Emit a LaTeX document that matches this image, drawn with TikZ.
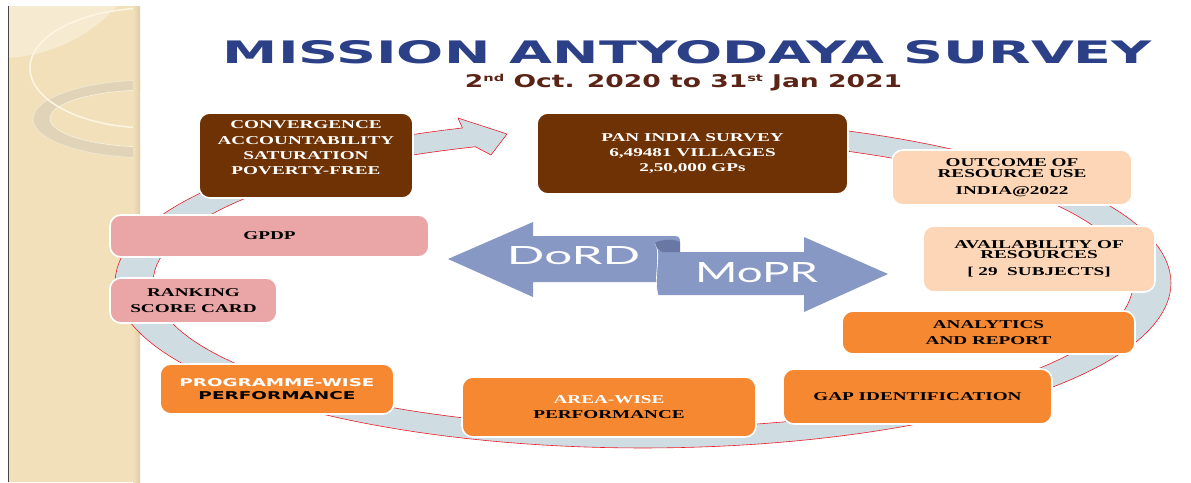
\documentclass[tikz,border=0pt]{standalone}
\usepackage{fontspec}
\setmainfont{Liberation Serif}
\newfontfamily\bxfont[FakeStretch=1.6]{Liberation Serif}
\newfontfamily\gillfont{Lato}
\newfontfamily\heavyfont{DejaVu Sans}
\newfontfamily\titlefont{DejaVu Sans}
\newcommand\supx[1]{\raisebox{3pt}{\fontsize{5.5}{5.5}\selectfont #1}}
\definecolor{panelbg}{RGB}{241,224,185}
\definecolor{panellight}{RGB}{246,234,208}
\definecolor{panelring}{RGB}{224,211,184}
\definecolor{panelline}{RGB}{252,245,225}
\definecolor{panelshade}{RGB}{222,206,168}
\definecolor{paneledge}{RGB}{70,70,70}
\definecolor{titleblue}{RGB}{44,64,136}
\definecolor{subbrown}{RGB}{92,36,22}
\definecolor{boxbrown}{RGB}{111,50,4}
\definecolor{boxpeach}{RGB}{252,214,182}
\definecolor{boxorange}{RGB}{247,136,50}
\definecolor{boxpink}{RGB}{234,166,167}
\definecolor{ringfill}{RGB}{207,220,226}
\definecolor{ringline}{RGB}{235,30,40}
\definecolor{arrowblue}{RGB}{136,152,197}
\definecolor{arrowdark}{RGB}{104,119,163}
\tikzset{
  cardbox/.style={draw=white, line width=1.6pt, rounded corners=11pt, inner sep=0pt,
    align=center, font=\bxfont\bfseries\fontsize{12}{15.3}\selectfont},
  cardtext/.style={inner sep=0pt, align=center, font=\bxfont\bfseries\fontsize{12}{15.3}\selectfont},
  bigword/.style={inner sep=0pt, text=white, font=\gillfont},
}
\begin{document}
\begin{tikzpicture}[x=1pt,y=-1pt]
\useasboundingbox (0,0) rectangle (1191,482);
\fill[white] (0,0) rectangle (1191,482);
% left decorative panel
\begin{scope}
  \clip (8,6) rectangle (140,482);
  \fill[panelbg] (8,6) rectangle (140,482);
  \fill[panellight] (0,-100) circle[radius=158];
  \fill[panelring, even odd rule] (150,119) ellipse[x radius=117, y radius=39]
        (150,118.5) ellipse[x radius=100, y radius=28.5];
  \draw[panelline!60!panelring, line width=0.8pt] (150,119) ellipse[x radius=117, y radius=39];
  \draw[panelline!80!panelring, line width=0.8pt] (150,118.5) ellipse[x radius=100, y radius=28.5];
  \draw[panelline, line width=1.6pt] (150,68) ellipse[x radius=120, y radius=60];
  \shade[left color=panelbg, right color=panelshade] (133,6) rectangle (140,482);
\end{scope}
\draw[paneledge, line width=1.5pt] (8.5,6) -- (8.5,482);
% title
\node[inner sep=0pt, text=titleblue] (title) at (687.5,52)
  {\resizebox{929pt}{23pt}{\titlefont\bfseries MISSION ANTYODAYA SURVEY}};
\node[inner sep=0pt, text=subbrown] (subtitle) at (683.5,82.5)
  {\resizebox{437pt}{13pt}{\heavyfont\bfseries 2\supx{nd} Oct. 2020 to 31\supx{st} Jan 2021}};
% circular arrow ring
\path[fill=ringfill, draw=ringline, line width=0.6pt]
  plot[domain=-84:250, samples=160] ({643+528*cos(\x)},{283+165*sin(\x)})
  -- (458,118) -- (507,134) -- (491,155)
  -- plot[domain=250:-84, samples=160] ({643+490*cos(\x)},{283+145*sin(\x)}) -- cycle;
% DoRD / MoPR arrows
\fill[arrowblue] (448,259) -- (533,222) -- (533,236) -- (674,236)
  .. controls (679,236) and (680,238) .. (680,242) -- (657,242) -- (657,282)
  -- (533,282) -- (533,297) -- cycle;
\fill[arrowblue] (655,243) .. controls (662,255) and (653,276) .. (658,295)
  -- (804,295) -- (804,312) -- (888,274) -- (804,237) -- (804,252) -- (662,252)
  .. controls (658,250) and (656,247) .. (655,243) -- cycle;
\draw[white, line width=0.6pt] (655,243) .. controls (662,255) and (653,276) .. (658,295);
\fill[arrowdark] (655,243) .. controls (660,239) and (676,239) .. (680,242)
  -- (680,252) -- (662,252) .. controls (658,250) and (656,247) .. (655,243) -- cycle;
\node[bigword] (dord) at (573.5,256) {\resizebox{133pt}{18pt}{DoRD}};
\node[bigword] (mopr) at (756.5,273) {\resizebox{123pt}{20pt}{MoPR}};
% boxes
\node[cardbox, fill=boxbrown, minimum width=214pt, minimum height=85pt] (conv) at (306,155.5) {};
\node[cardtext, text=white] (convtext) at (306,148)
  {CONVERGENCE\\ACCOUNTABILITY\\SATURATION\\POVERTY-FREE};
\node[cardbox, fill=boxbrown, text=white, minimum width=311pt, minimum height=81pt] (pan) at (692.5,153.5)
  {PAN INDIA SURVEY\\6,49481 VILLAGES\\2,50,000 GPs};
\node[cardbox, fill=boxpeach, minimum width=240pt, minimum height=55pt] (outcome) at (1012,177.5)
  {OUTCOME OF\\[-4pt]RESOURCE USE\\[1pt]INDIA@2022};
\node[cardbox, fill=boxpeach, minimum width=232pt, minimum height=66pt] (avail) at (1039,259)
  {AVAILABILITY OF\\[-5pt]RESOURCES\\[2pt]{[} 29\ \ SUBJECTS{]}};
\node[cardbox, fill=boxorange, minimum width=293pt, minimum height=43pt] (analytics) at (988.5,332.5)
  {ANALYTICS\\AND REPORT};
\node[cardbox, fill=boxorange, minimum width=269pt, minimum height=55pt] (gap) at (917.5,396.5)
  {GAP IDENTIFICATION};
\node[cardbox, fill=boxorange, minimum width=294pt, minimum height=60pt] (area) at (609,407)
  {\textcolor{white}{AREA-WISE}\\PERFORMANCE};
\node[cardbox, fill=boxorange, minimum width=234pt, minimum height=50pt,
      font=\heavyfont\bfseries\fontsize{10}{13}\selectfont] (prog) at (277,389)
  {\textcolor{white}{\resizebox{195pt}{8pt}{PROGRAMME-WISE}}\\\resizebox{157pt}{8pt}{PERFORMANCE}};
\node[cardbox, fill=boxpink, minimum width=167pt, minimum height=45pt] (rank) at (193.5,300.5)
  {RANKING\\SCORE CARD};
\node[cardbox, fill=boxpink, minimum width=319pt, minimum height=42pt] (gpdp) at (269.5,236)
  {GPDP};
\end{tikzpicture}
\end{document}
